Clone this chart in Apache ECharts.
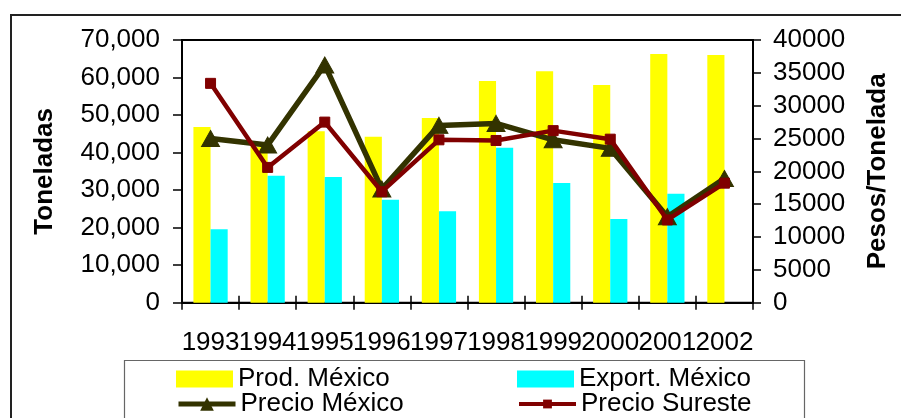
<!DOCTYPE html>
<html>
<head>
<meta charset="utf-8">
<script src="https://cdn.jsdelivr.net/npm/echarts@6/dist/echarts.min.js"></script>
<style>
  html, body { margin: 0; padding: 0; background: #fff; }
  #chart { width: 901px; height: 418px; }
</style>
</head>
<body>
<div id="chart"></div>
<script>
// Años de la serie
const years = ['1993', '1994', '1995', '1996', '1997', '1998', '1999', '2000', '2001', '2002'];
// Toneladas (eje izquierdo)
const prodMexico   = [46800, 41600, 45700, 44200, 49200, 59100, 61700, 58000, 66300, 66000];
const exportMexico = [19600, 33800, 33500, 27400, 24400, 41300, 31900, 22300, 29000, null];
// Pesos por tonelada (eje derecho)
const precioMexico  = [25000, 24000, 36200, 17300, 27000, 27300, 24800, 23500, 13100, 18900];
const precioSureste = [33400, 20600, 27500, 16900, 24800, 24700, 26200, 24900, 12600, 18200];

const FONT = '"Liberation Sans", Arial, Helvetica, sans-serif';
const chart = echarts.init(document.getElementById('chart'), null, { renderer: 'canvas' });

const legendText = { fontFamily: FONT, fontSize: 26, color: '#000' };

// one legend block per cell of the 2x2 legend grid
function legendCell(item, left, top, itemHeight) {
  return {
    data: [item], left: left, top: top, orient: 'horizontal',
    itemWidth: 57, itemHeight: itemHeight, itemGap: 0, padding: 0,
    textStyle: legendText, selectedMode: false
  };
}

chart.setOption({
  animation: false,
  backgroundColor: '#fff',
  textStyle: { fontFamily: FONT },
  grid: {
    left: 182, right: 148, top: 40, bottom: 115.3,
    show: true, borderColor: '#000', borderWidth: 2, backgroundColor: 'transparent'
  },
  graphic: [
    { type: 'rect', z: -10, silent: true,
      shape: { x: 11, y: 15, width: 1000, height: 1000 },
      style: { fill: 'none', stroke: '#222', lineWidth: 2 } },
    { type: 'rect', z: -9, silent: true,
      shape: { x: 124.5, y: 360.5, width: 680, height: 200 },
      style: { fill: '#fff', stroke: '#666', lineWidth: 1.2 } }
  ],
  legend: [
    legendCell({ name: 'Prod. México', icon: 'rect' }, 176, 366, 17),
    legendCell({ name: 'Export. México', icon: 'rect' }, 517, 366, 17),
    legendCell({ name: 'Precio México', lineStyle: { width: 5 } }, 176, 391, 17),
    legendCell({ name: 'Precio Sureste', lineStyle: { width: 4 } }, 517, 391, 11)
  ],
  xAxis: [
    {
      type: 'category', data: years, position: 'bottom',
      axisLine: { lineStyle: { color: '#000', width: 2 } },
      axisTick: { show: true, length: 7, lineStyle: { color: '#000', width: 1.5 } },
      axisLabel: { interval: 0, hideOverlap: false, margin: 27, color: '#000', fontSize: 26, fontFamily: FONT },
      splitLine: { show: false }
    },
    {
      type: 'category', data: years, position: 'bottom',
      axisLine: { show: false },
      axisTick: { show: true, inside: true, length: 7, lineStyle: { color: '#000', width: 1.5 } },
      axisLabel: { show: false },
      splitLine: { show: false }
    }
  ],
  yAxis: [
    {
      type: 'value', min: 0, max: 70000, interval: 10000, position: 'left',
      name: 'Toneladas', nameLocation: 'middle', nameGap: 124, nameRotate: 90,
      nameTextStyle: { fontFamily: FONT, fontSize: 26, fontWeight: 'bold', color: '#000' },
      axisLine: { show: true, lineStyle: { color: '#000', width: 2 } },
      axisTick: { show: true, length: 9, lineStyle: { color: '#000', width: 1.5 } },
      axisLabel: {
        margin: 22, color: '#000', fontSize: 26, fontFamily: FONT,
        formatter: v => v.toLocaleString('en-US')
      },
      splitLine: { show: false }
    },
    {
      type: 'value', min: 0, max: 40000, interval: 5000, position: 'right',
      name: 'Pesos/Tonelada', nameLocation: 'middle', nameGap: 112, nameRotate: 90,
      nameTextStyle: { fontFamily: FONT, fontSize: 26, fontWeight: 'bold', color: '#000' },
      axisLine: { show: true, lineStyle: { color: '#000', width: 2 } },
      axisTick: { show: true, length: 8, lineStyle: { color: '#000', width: 1.5 } },
      axisLabel: { margin: 20, color: '#000', fontSize: 26, fontFamily: FONT, formatter: v => String(v) },
      splitLine: { show: false }
    }
  ],
  series: [
    {
      name: 'Prod. México', type: 'bar', yAxisIndex: 0, data: prodMexico,
      barGap: '0%', barCategoryGap: '40%',
      itemStyle: { color: '#FFFF00' }, emphasis: { disabled: true }
    },
    {
      name: 'Export. México', type: 'bar', yAxisIndex: 0, data: exportMexico,
      barGap: '0%', barCategoryGap: '40%',
      itemStyle: { color: '#00FFFF' }, emphasis: { disabled: true }
    },
    {
      name: 'Precio México', type: 'line', yAxisIndex: 1, data: precioMexico,
      symbol: 'triangle', symbolSize: [18, 16], showAllSymbol: true,
      lineStyle: { color: '#333300', width: 5.5 },
      itemStyle: { color: '#333300', borderColor: '#333300' },
      emphasis: { disabled: true }, z: 3
    },
    {
      name: 'Precio Sureste', type: 'line', yAxisIndex: 1, data: precioSureste,
      symbol: 'rect', symbolSize: 10, showAllSymbol: true,
      lineStyle: { color: '#800000', width: 4.5 },
      itemStyle: { color: '#800000', borderColor: '#800000' },
      emphasis: { disabled: true }, z: 4
    }
  ]
});
</script>
</body>
</html>
